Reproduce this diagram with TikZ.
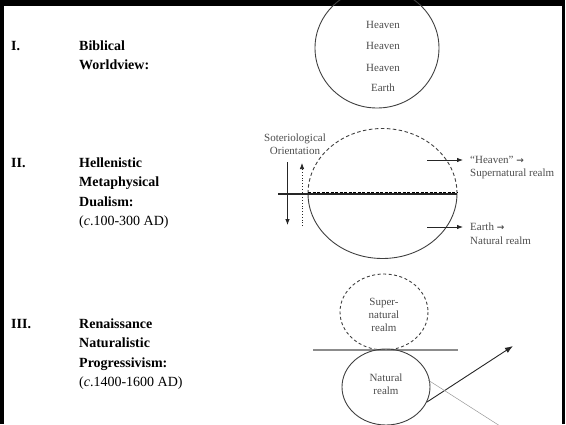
\documentclass[tikz,border=0pt]{standalone}
\usepackage{fontspec}
\setmainfont{Liberation Serif}
\newfontfamily\arrowfont{DejaVu Sans}
\usetikzlibrary{arrows.meta, positioning}

\newcommand{\realmarrow}{{\arrowfont\bfseries\fontsize{9}{9}\selectfont →}}

\begin{document}
\begin{tikzpicture}[x=1pt, y=-1pt, >={Latex[length=6pt, width=4.5pt]},
    heading/.style={font=\fontsize{14}{19.5}\selectfont\bfseries, inner sep=0pt, align=left, anchor=base west},
    smalltxt/.style={font=\fontsize{11}{13.5}\selectfont, text=black!70, inner sep=0pt, align=center},
    rim/.style={draw=black!75, line width=0.9pt},
    pointer/.style={->, draw=black!85, line width=0.8pt}]
        \useasboundingbox (0,0) rectangle (566,424);
        \clip (0,0) rectangle (566,424);

        % Frame
        \fill (0,0) rectangle (565,5.5);
        \fill (0,0) rectangle (3.5,424);
        \fill (562,0) rectangle (564.5,424);

        % Part I
        \node[heading] (numI) at (11,50) {I.};
        \node[heading] (headI) at (79,69.5) {Biblical\\Worldview:};
        \draw[rim] (377,48) ellipse [x radius=62, y radius=60];
        \node[smalltxt] (hvnA) at (383,25) {Heaven};
        \node[smalltxt] (hvnB) at (383,46) {Heaven};
        \node[smalltxt] (hvnC) at (383,68) {Heaven};
        \node[smalltxt] (earthI) at (383,88) {Earth};

        % Part II
        \node[heading] (numII) at (11,167) {II.};
        \node[heading] (headII) at (79,225.5) {Hellenistic\\Metaphysical\\Dualism:\\{\mdseries(\textit{c}.100-300 AD)}};
        \node[smalltxt] (soter) at (295,144) {Soteriological\\Orientation};
        % Orientation arrows
        \coordinate (downA) at (287.5,162);
        \coordinate (downB) at (287.5,225);
        \coordinate (upA) at (302,226);
        \coordinate (upB) at (302,163);
        \draw[pointer] (downA) -- (downB);
        \draw[pointer, dotted, line width=0.7pt] (upA) -- (upB);
        % Divided circle
        \draw[rim, dash pattern=on 3.5pt off 2.5pt] (308,193.5) arc [start angle=180, end angle=360, x radius=74.5, y radius=65];
        \draw[rim] (308,193.5) arc [start angle=180, end angle=0, x radius=74.5, y radius=65];
        \coordinate (lineL) at (278,194);
        \coordinate (lineR) at (457,194);
        \draw[line width=1.1pt, black!85] (lineL) -- (lineR);
        \draw[line width=1.1pt, black, dash pattern=on 3pt off 1.5pt] (308,192.6) -- (457,192.6);
        % Realm labels
        \node[smalltxt, anchor=west] (heavenII) at (470,160) {“Heaven” \realmarrow};
        \node[smalltxt, anchor=west] (superII) at (470,174) {Supernatural realm};
        \node[smalltxt, anchor=west] (earthII) at (470,227) {Earth \realmarrow};
        \node[smalltxt, anchor=west] (naturalII) at (470,241) {Natural realm};
        \coordinate (heavenTail) at (427,160);
        \coordinate (earthTail) at (427,227);
        \draw[pointer, shorten >=7pt] (heavenTail) -- (heavenII.west);
        \draw[pointer, shorten >=7pt] (earthTail) -- (earthII.west);

        % Part III
        \node[heading] (numIII) at (11,328) {III.};
        \node[heading] (headIII) at (79,386.5) {Renaissance\\Naturalistic\\Progressivism:\\{\mdseries(\textit{c}.1400-1600 AD)}};
        \draw[rim, dash pattern=on 3pt off 2.5pt] (384,312) ellipse [x radius=44, y radius=38];
        \node[smalltxt, font=\fontsize{11}{13}\selectfont] (superIII) at (384,315) {Super-\\natural\\realm};
        \coordinate (groundL) at (313,350);
        \coordinate (groundR) at (458,350);
        \draw[line width=1.6pt, black!45] (groundL) -- (groundR);
        \draw[rim] (386,387) ellipse [x radius=44, y radius=38];
        \node[smalltxt, font=\fontsize{11}{13}\selectfont] (naturalIII) at (386,384.5) {Natural\\realm};
        \coordinate (riseA) at (427,402);
        \coordinate (riseB) at (513,346);
        \coordinate (fallA) at (428,380);
        \coordinate (fallB) at (500,426);
        \draw[pointer, line width=0.9pt, >={Latex[length=8pt, width=6pt]}] (riseA) -- (riseB);
        \draw[black!40, line width=0.5pt] (fallA) -- (fallB);
\end{tikzpicture}
\end{document}
